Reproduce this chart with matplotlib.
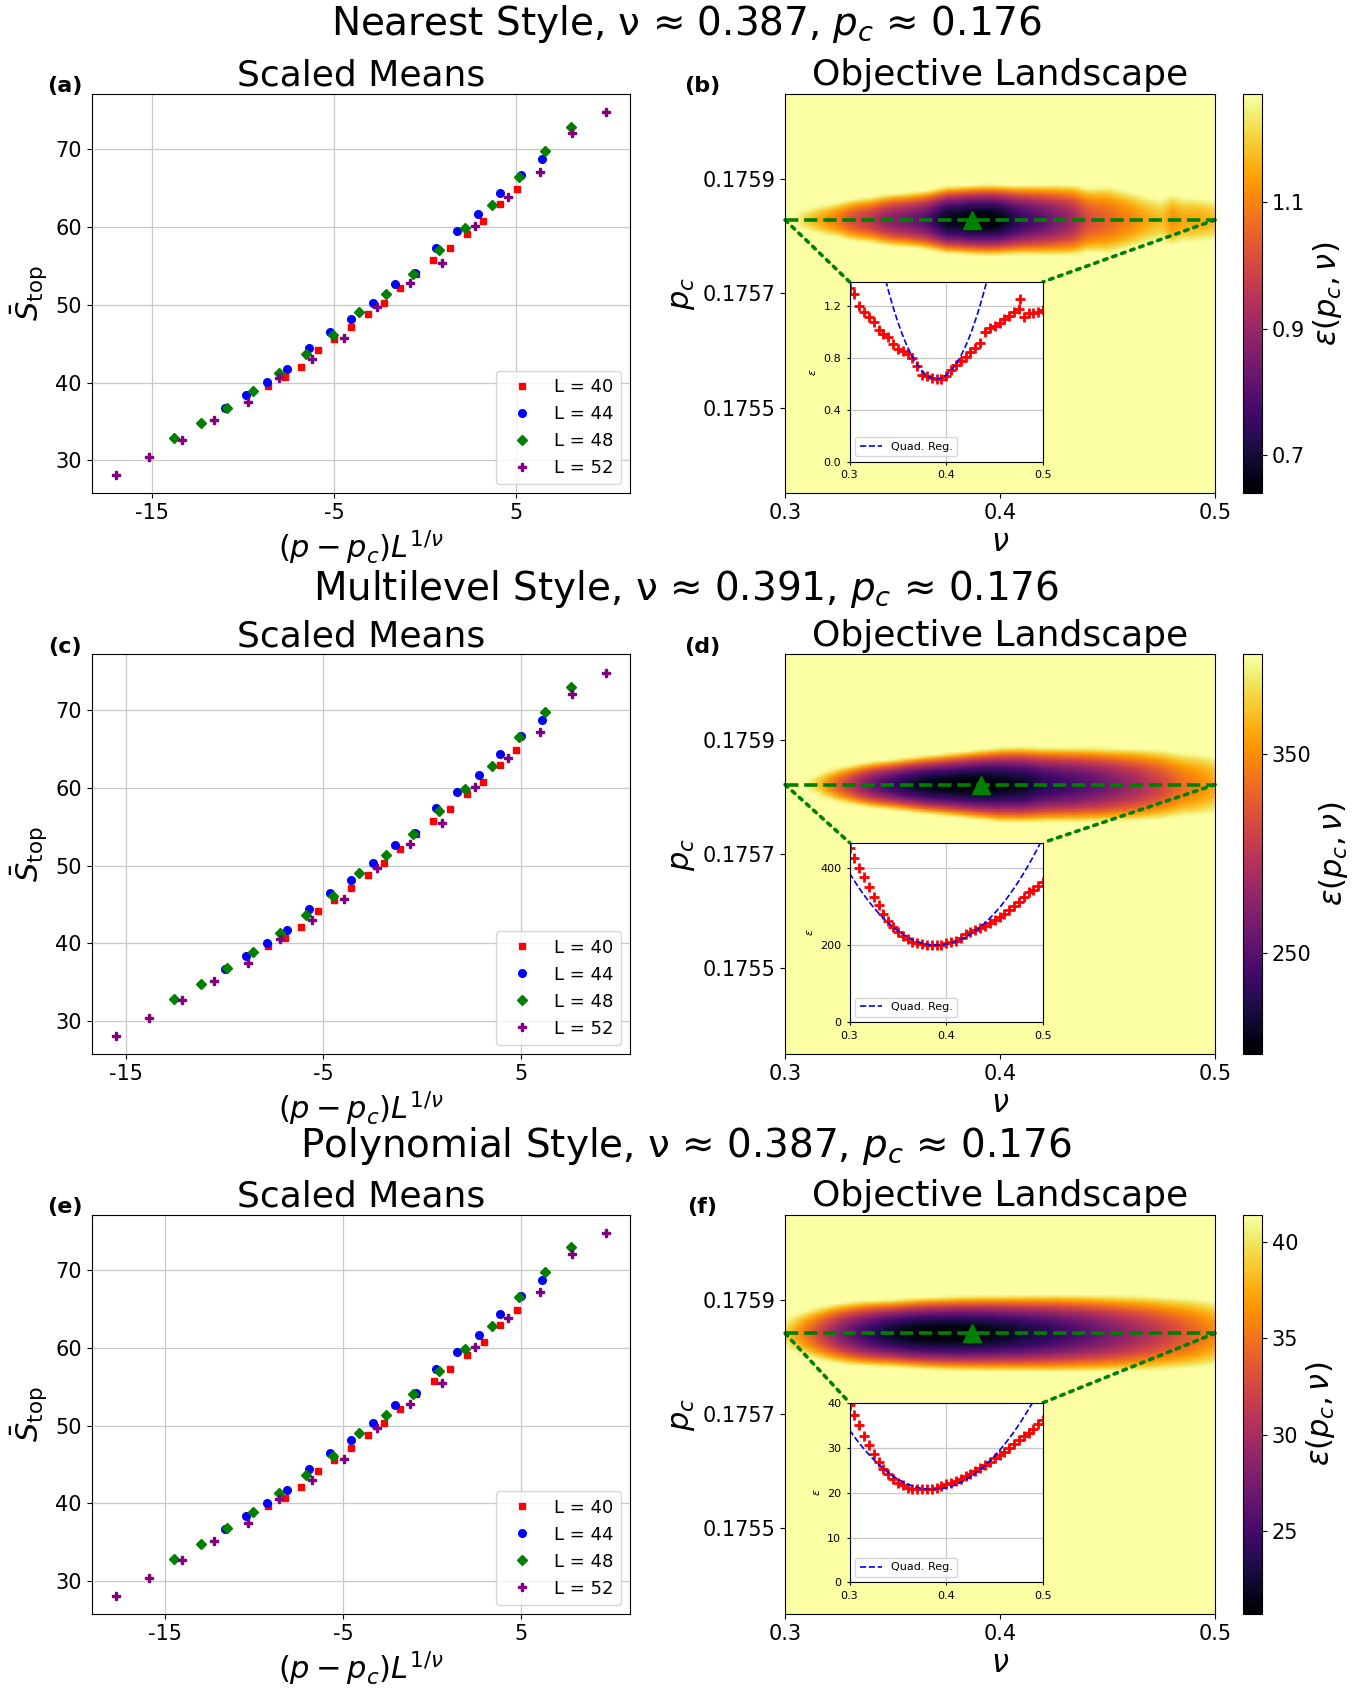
import numpy as np
import matplotlib
matplotlib.use("Agg")
import matplotlib.pyplot as plt
from matplotlib.patches import ConnectionPatch

plt.rcParams["font.family"] = "DejaVu Sans"
plt.rcParams["mathtext.fontset"] = "dejavusans"
plt.rcParams["axes.unicode_minus"] = False
plt.rcParams["xtick.labelsize"] = 15
plt.rcParams["ytick.labelsize"] = 15

# ---- scaled means (same S values in every row, x depends on the fit) ----
s_L40 = [39.62, 40.68, 42.05, 44.19, 45.56, 47.18, 48.85, 50.30, 52.14, 54.02, 55.77, 57.31, 59.15, 60.73, 62.99, 64.87]
s_L44 = [36.67, 38.42, 40.09, 41.71, 44.40, 46.50, 48.12, 50.30, 52.65, 54.15, 57.35, 59.44, 61.71, 64.36, 66.67, 68.76]
s_L48 = [32.86, 34.74, 36.79, 38.93, 41.28, 43.68, 46.15, 49.02, 51.37, 54.02, 57.01, 59.87, 62.82, 66.50, 69.79, 72.95]
s_L52 = [28.10, 30.40, 32.65, 35.17, 37.44, 40.56, 43.00, 45.68, 49.66, 52.78, 55.43, 60.09, 63.85, 67.14, 72.14, 74.83]

x_near_L40 = [-8.64, -7.70, -6.82, -5.90, -4.98, -4.08, -3.16, -2.28, -1.36, -0.48, 0.46, 1.36, 2.28, 3.20, 4.12, 5.02]
x_near_L44 = [-10.97, -9.86, -8.69, -7.56, -6.38, -5.21, -4.06, -2.88, -1.68, -0.53, 0.62, 1.77, 2.93, 4.12, 5.25, 6.41]
x_near_L48 = [-13.80, -12.33, -10.90, -9.45, -8.00, -6.54, -5.07, -3.62, -2.14, -0.67, 0.76, 2.21, 3.66, 5.14, 6.57, 8.02]
x_near_L52 = [-16.98, -15.16, -13.36, -11.59, -9.75, -8.00, -6.22, -4.45, -2.63, -0.83, 0.92, 2.74, 4.54, 6.31, 8.06, 9.91]

x_multi_L40 = [-7.80, -6.94, -6.13, -5.28, -4.43, -3.60, -2.75, -1.94, -1.09, -0.28, 0.58, 1.41, 2.26, 3.11, 3.96, 4.78]
x_multi_L44 = [-9.95, -8.93, -7.85, -6.81, -5.72, -4.64, -3.58, -2.50, -1.39, -0.33, 0.73, 1.79, 2.86, 3.96, 5.00, 6.07]
x_multi_L48 = [-12.56, -11.20, -9.88, -8.55, -7.21, -5.87, -4.51, -3.18, -1.81, -0.46, 0.86, 2.20, 3.53, 4.90, 6.21, 7.55]
x_multi_L52 = [-15.49, -13.81, -12.15, -10.52, -8.83, -7.21, -5.57, -3.94, -2.26, -0.61, 1.01, 2.68, 4.34, 5.97, 7.59, 9.29]

x_poly_L40 = [-9.25, -8.28, -7.38, -6.44, -5.50, -4.58, -3.64, -2.74, -1.79, -0.89, 0.07, 0.99, 1.93, 2.88, 3.82, 4.74]
x_poly_L44 = [-11.63, -10.49, -9.30, -8.14, -6.93, -5.73, -4.56, -3.35, -2.12, -0.94, 0.23, 1.41, 2.60, 3.82, 4.97, 6.16]
x_poly_L48 = [-14.53, -13.02, -11.56, -10.07, -8.59, -7.10, -5.59, -4.11, -2.59, -1.09, 0.38, 1.86, 3.35, 4.86, 6.32, 7.81]
x_poly_L52 = [-17.78, -15.92, -14.08, -12.27, -10.38, -8.59, -6.77, -4.96, -3.09, -1.25, 0.54, 2.40, 4.25, 6.06, 7.85, 9.74]

# ---- objective along the best p_c line (inset) ----
nu_scan = np.round(np.arange(0.300, 0.5001, 0.005), 3)
eps_nearest = [1.345, 1.30, 1.20, 1.16, 1.12, 1.08, 1.02, 0.985, 0.96, 0.91,
               0.87, 0.855, 0.83, 0.80, 0.74, 0.67, 0.665, 0.645, 0.64, 0.64,
               0.66, 0.71, 0.75, 0.78, 0.81, 0.845, 0.88, 0.92, 1.00, 1.03,
               1.05, 1.075, 1.10, 1.13, 1.16, 1.18, 1.12, 1.15, 1.15, 1.16, 1.175]
# lone high point in the nearest-style scan
outlier_nu = [0.4765]
outlier_eps = [1.26]
eps_multi = [451, 425, 400, 375, 349, 324, 303, 281, 262, 247,
             235, 224, 216, 209, 205, 203, 201, 199, 199, 201,
             205, 208, 211, 219, 228, 233, 239, 243, 250, 256,
             264, 273, 281, 290, 301, 311, 324, 336, 343, 352, 362]
eps_poly = [39.4, 37.2, 35.0, 32.7, 30.5, 28.5, 26.8, 25.3, 24.1, 23.0,
            22.2, 21.6, 21.1, 20.8, 20.7, 20.7, 20.7, 20.9, 21.1, 21.4,
            21.8, 22.1, 22.6, 23.1, 23.6, 24.1, 24.8, 25.4, 26.1, 26.8,
            27.6, 28.3, 29.1, 29.9, 30.7, 31.6, 32.5, 33.3, 34.2, 35.2, 36.2]

# quadratic regression: a*(nu - nu0)**2 + b
quad_nearest = (278.0, 0.3897, 0.64)
quad_multi = (22963.0, 0.390, 200.0)
quad_poly = (1803.0, 0.3856, 20.7)

# best fit point, colour scale top, curvature of the valley in p_c
nu_best = [0.387, 0.391, 0.387]
pc_best = [0.175829, 0.175822, 0.175842]
eps_vmax = [1.272, 400.0, 41.4]
curv_nu = [0.30, 0.35, 0.40, 0.45, 0.50]
curv_nearest = [2.2e8, 1.9e8, 1.6e8, 0.65e8, 0.9e8]
curv_multi = [8.5e10, 8.5e10, 4.6e10, 3.3e10, 1.6e10]
curv_poly = [3.8e9, 5.5e9, 4.5e9, 3.1e9, 1.7e9]

pc_scan = np.linspace(0.17535, 0.17605, 141)

style_names = ["Nearest", "Multilevel", "Polynomial"]
cbar_ticks = [[0.7, 0.9, 1.1], [250, 350], [25, 30, 35, 40]]
inset_ylim = [1.39, 465, 40]
inset_yticks = [[0.0, 0.4, 0.8, 1.2], [0, 200, 400], [0, 10, 20, 30, 40]]
panel_tags = [("(a)", "(b)"), ("(c)", "(d)"), ("(e)", "(f)")]

x_rows = [
    [x_near_L40, x_near_L44, x_near_L48, x_near_L52],
    [x_multi_L40, x_multi_L44, x_multi_L48, x_multi_L52],
    [x_poly_L40, x_poly_L44, x_poly_L48, x_poly_L52],
]
s_all = [s_L40, s_L44, s_L48, s_L52]
eps_rows = [eps_nearest, eps_multi, eps_poly]
quad_rows = [quad_nearest, quad_multi, quad_poly]
curv_rows = [curv_nearest, curv_multi, curv_poly]

sizes = [40, 44, 48, 52]
markers = ["s", "o", "D", "P"]
colors = ["red", "blue", "green", "purple"]
msizes = [5, 5.5, 5, 6]


def landscape(eps_line, pc0, curv):
    a = np.interp(nu_scan, curv_nu, curv)
    return np.asarray(eps_line)[None, :] + a[None, :] * (pc_scan[:, None] - pc0) ** 2


fig = plt.figure(figsize=(13.72, 16.89), dpi=100)

row_bottom = [0.708, 0.376, 0.0444]
row_title_y = [0.986, 0.6513, 0.3216]
h = 0.2365

for r in range(3):
    b = row_bottom[r]
    fig.text(0.5, row_title_y[r],
             f"{style_names[r]} Style, ν ≈ {nu_best[r]:.3f}, " + r"$p_c$" + " ≈ 0.176",
             ha="center", va="center", fontsize=28)

    # left: scaled means
    ax = fig.add_axes([0.0667, b, 0.3925, h])
    for xs, ys, mk, col, ms, L in zip(x_rows[r], s_all, markers, colors, msizes, sizes):
        ax.plot(xs, ys, linestyle="none", marker=mk, color=col, ms=ms, label=f"L = {L}")
    ax.set_xticks([-15, -5, 5])
    ax.set_yticks([30, 40, 50, 60, 70])
    ax.grid(True, color="#c8c8c8", lw=0.9)
    ax.set_axisbelow(True)
    ax.legend(loc="lower right", fontsize=13)
    ax.set_title("Scaled Means", fontsize=26)
    ax.set_xlabel(r"$(p - p_c)L^{1/\nu}$", fontsize=22)
    ax.set_ylabel(r"$\bar{S}_{\mathrm{top}}$", fontsize=22)
    ax.text(-0.049, 1.019, panel_tags[r][0], transform=ax.transAxes,
            ha="center", va="center", fontsize=16, fontweight="bold")

    # right: objective landscape
    hm = fig.add_axes([0.5722, b, 0.3134, h])
    cax = fig.add_axes([0.9057, b, 0.0142, h])
    Z = landscape(eps_rows[r], pc_best[r], curv_rows[r])
    mesh = hm.pcolormesh(nu_scan, pc_scan, Z, cmap="inferno",
                         vmin=min(eps_rows[r]), vmax=eps_vmax[r], shading="gouraud")
    hm.set_xlim(0.3, 0.5)
    hm.set_ylim(0.17535, 0.17605)
    hm.set_xticks([0.3, 0.4, 0.5])
    hm.set_yticks([0.1755, 0.1757, 0.1759], labels=["0.1755", "0.1757", "0.1759"])
    hm.axhline(pc_best[r], color="green", ls="--", lw=2.6)
    hm.plot(nu_best[r], pc_best[r], "^", color="green", ms=13)
    hm.set_title("Objective Landscape", fontsize=26)
    hm.set_xlabel(r"$\nu$", fontsize=22)
    hm.set_ylabel(r"$p_c$", fontsize=22)
    hm.text(-0.193, 1.019, panel_tags[r][1], transform=hm.transAxes,
            ha="center", va="center", fontsize=16, fontweight="bold")

    cb = fig.colorbar(mesh, cax=cax, ticks=cbar_ticks[r])
    cb.ax.tick_params(labelsize=15)
    cb.set_label(r"$\varepsilon(p_c, \nu)$", fontsize=22)

    # inset: cut along the best p_c
    ins = hm.inset_axes([0.15, 0.079, 0.45, 0.45])
    ins.set_facecolor("white")
    ins.plot(nu_scan, eps_rows[r], "+", color="red", ms=6.5, mew=2.0)
    if r == 0:
        ins.plot(outlier_nu, outlier_eps, "+", color="red", ms=6.5, mew=2.0)
    qa, qn, qb = quad_rows[r]
    nu_fit = np.linspace(0.3, 0.5, 300)
    ins.plot(nu_fit, qa * (nu_fit - qn) ** 2 + qb, "--", color="blue", lw=1.2, label="Quad. Reg.")
    ins.set_xlim(0.3, 0.5)
    ins.set_ylim(0, inset_ylim[r])
    ins.set_xticks([0.3, 0.4, 0.5])
    ins.set_yticks(inset_yticks[r])
    ins.tick_params(labelsize=8, length=2.5)
    ins.grid(True, color="#c8c8c8", lw=0.9)
    ins.set_ylabel(r"$\varepsilon$", fontsize=8)
    ins.legend(loc="lower left", fontsize=8)

    for xa, xb in [(0.3, 0.0), (0.5, 1.0)]:
        con = ConnectionPatch(xyA=(xa, pc_best[r]), coordsA=hm.transData,
                              xyB=(xb, 1.0), coordsB=ins.transAxes,
                              color="green", ls=":", lw=2.6)
        hm.add_artist(con)

fig.savefig("out.png", dpi=100)
